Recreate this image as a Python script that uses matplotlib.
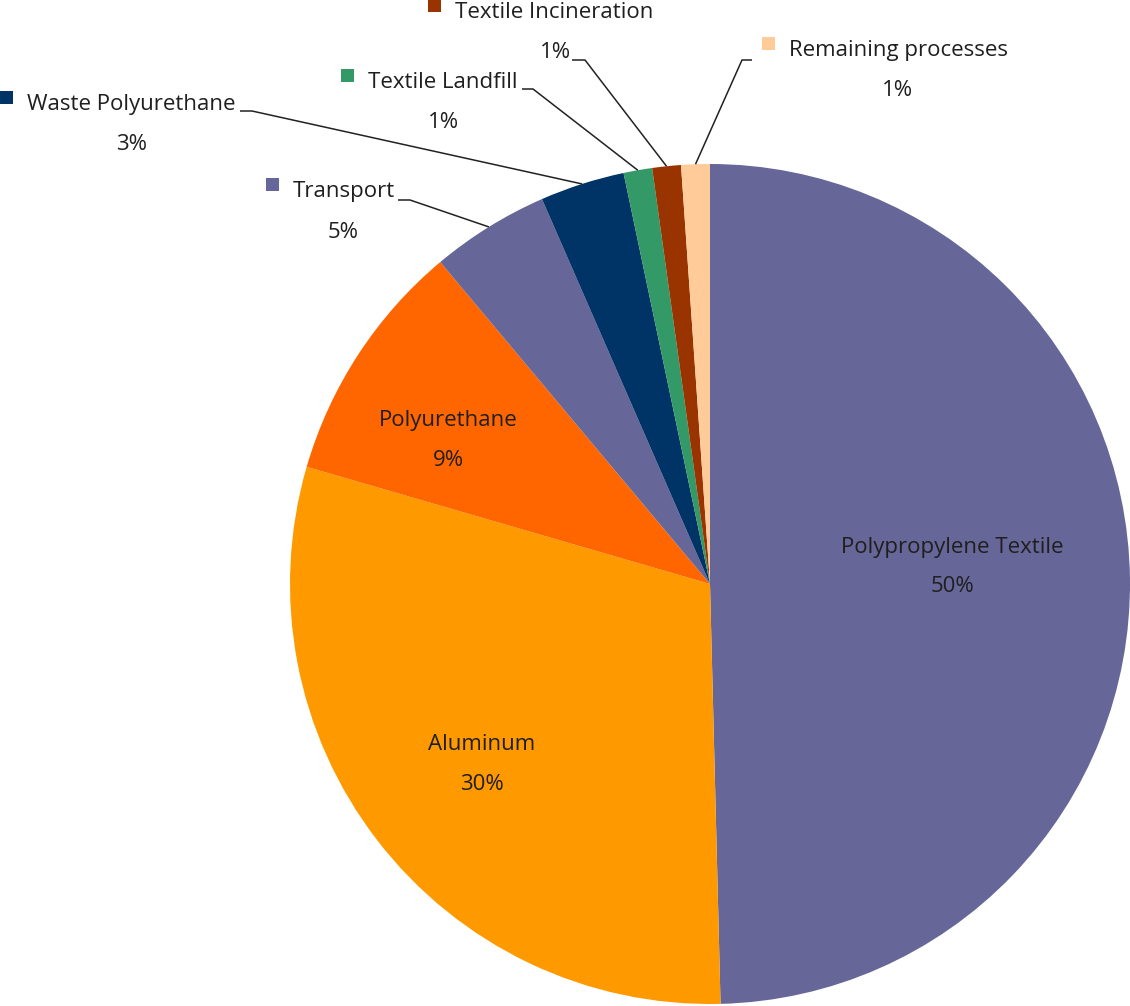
import numpy as np
import matplotlib
matplotlib.use("Agg")
import matplotlib.pyplot as plt

# slices, clockwise from 12 o'clock
names = ["Polypropylene Textile", "Aluminum", "Polyurethane", "Transport",
         "Waste Polyurethane", "Textile Landfill", "Textile Incineration",
         "Remaining processes"]
shares = [49.6, 29.9, 9.4, 4.55, 3.25, 1.1, 1.1, 1.1]
colors = ["#666699", "#FF9900", "#FF6600", "#666699",
          "#003366", "#339966", "#993300", "#FFCC99"]

W, H = 1130, 1006
plt.rcParams['font.family'] = ['Open Sans', 'DejaVu Sans']
FS = 16
TXT = "#1f1f1f"

fig = plt.figure(figsize=(W / 100, H / 100), dpi=100)
ax = fig.add_axes([0, 0, 1, 1])

cx, cy, R = 710, H - 584, 420
wedges, _ = ax.pie(shares, colors=colors, startangle=90, counterclock=False,
                   radius=R, center=(cx, cy), wedgeprops=dict(linewidth=0))
ax.set_xlim(0, W)
ax.set_ylim(0, H)
ax.set_aspect('equal')
ax.axis('off')

def Y(y):
    return H - y

pct = [f"{int(s + 0.5)}%" for s in shares]

# labels inside the big slices (pixel positions, y from top)
inside = {0: (952, 548, 587), 1: (482, 744, 784), 2: (448, 420, 460)}
for i, (x, y1, y2) in inside.items():
    ax.text(x, Y(y1), names[i], ha='center', va='center', fontsize=FS, color=TXT)
    ax.text(x, Y(y2), pct[i], ha='center', va='center', fontsize=FS, color=TXT)

# outside labels: name left x, name y, pct x, pct y, stub start x, stub end x, stub y
outside = {
    3: (293, 191, 343, 232, 398, 410, 200),
    4: (27, 104, 132, 144, 240, 252, 111),
    5: (368, 82, 443, 122, 522, 533, 89),
    6: (455, 12, 555, 52, 572, 585, 60),
    7: (789, 50, 898, 90, 752, 742, 60),
}
for i, (nx, ny, px, py, sx0, sx1, sy) in outside.items():
    ax.text(nx, Y(ny), names[i], ha='left', va='center', fontsize=FS, color=TXT)
    ax.text(px, Y(py), pct[i], ha='center', va='center', fontsize=FS, color=TXT)
    # legend key square, top-aligned with the name
    ax.add_patch(plt.Rectangle((nx - 27, Y(ny) + 0.5), 12.5, 12.5,
                               color=colors[i], lw=0))
    # leader line from stub to the middle of the slice rim
    w = wedges[i]
    mid = np.deg2rad((w.theta1 + w.theta2) / 2)
    ex, ey = cx + R * np.cos(mid), cy + R * np.sin(mid)
    ax.plot([sx0, sx1, ex], [Y(sy), Y(sy), ey], color="#222222", lw=1.1,
            solid_capstyle='butt')

fig.savefig("out.png", dpi=100)
